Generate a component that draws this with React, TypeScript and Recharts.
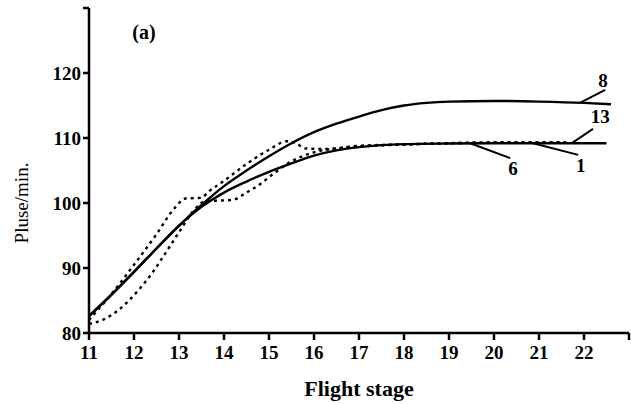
import React from 'react';
import { LineChart, Line, XAxis, YAxis, ReferenceLine, ReferenceDot } from 'recharts';

// flight stages and pulse values
const stage8 = [11, 11.5, 12, 12.5, 13, 13.5, 14, 14.5, 15, 15.5, 16, 16.5, 17, 17.5, 18, 18.5, 19, 20, 21, 22, 22.6];
const pulse8 = [82.6, 85.9, 89.4, 93.0, 96.5, 99.7, 102.6, 105.0, 107.2, 109.2, 110.9, 112.2, 113.3, 114.3, 115.0, 115.4, 115.6, 115.7, 115.6, 115.4, 115.2];

const stage6 = [11, 11.5, 12, 12.5, 13, 13.5, 14, 14.5, 15, 15.5, 16, 16.5, 17, 17.5, 18, 19, 20, 21, 22, 22.5];
const pulse6 = [82.6, 85.9, 89.4, 93.0, 96.5, 99.4, 101.6, 103.3, 104.8, 106.1, 107.3, 108.1, 108.6, 108.9, 109.05, 109.15, 109.2, 109.2, 109.2, 109.2];

const stage13 = [11, 11.5, 12, 12.5, 12.9, 13.15, 13.5, 13.65, 14, 14.5, 15, 15.4, 15.6, 15.8, 16.2, 17, 18, 19, 20, 21, 21.6];
const pulse13 = [82.0, 86.0, 90.5, 95.2, 99.2, 100.7, 100.8, 101.7, 103.4, 106.0, 108.2, 109.5, 109.2, 108.4, 108.3, 108.7, 109.0, 109.2, 109.3, 109.3, 109.3];

const stage1 = [11, 11.3, 11.65, 12.1, 12.4, 12.7, 13, 13.3, 13.6, 14, 14.2, 14.5, 14.8, 15.1, 15.4, 16, 16.5, 17, 18, 19, 20, 21, 21.6];
const pulse1 = [81.4, 82.0, 83.5, 86.6, 89.2, 92.3, 95.5, 98.6, 100.3, 100.4, 100.5, 101.6, 102.9, 104.5, 106.0, 107.8, 108.4, 108.8, 109.0, 109.2, 109.3, 109.3, 109.3];

const xTicks = [11, 12, 13, 14, 15, 16, 17, 18, 19, 20, 21, 22, 23];
const yTicks = [80, 90, 100, 110, 120, 130];

// curve numbers and their leader lines
const curveLabels = ['8', '13', '6', '1'];
const labelAt = [
  { x: 22.42, y: 118.9 },
  { x: 22.36, y: 113.3 },
  { x: 20.42, y: 105.4 },
  { x: 21.93, y: 105.8 },
];
const leaders = [
  [{ x: 21.91, y: 115.4 }, { x: 22.47, y: 117.4 }],
  [{ x: 21.73, y: 109.2 }, { x: 22.2, y: 111.4 }],
  [{ x: 19.47, y: 109.2 }, { x: 20.36, y: 106.9 }],
  [{ x: 20.87, y: 109.2 }, { x: 21.87, y: 107.4 }],
];

const toPoints = (xs: number[], ys: number[]) => xs.map((x, i) => ({ stage: x, pulse: ys[i] }));

const FONT = '"Liberation Serif", "Times New Roman", serif';
const tickStyle = { fill: '#000', fontFamily: FONT, fontWeight: 700, fontSize: 19 };

const YTitle = ({ viewBox }: any) => {
  const cx = viewBox.x + 21;
  const cy = 203;
  return (
    <text x={cx} y={cy} transform={`rotate(-90 ${cx} ${cy})`} textAnchor="middle" dominantBaseline="central"
      fontFamily={FONT} fontSize={19} fill="#000">
      Pluse/min.
    </text>
  );
};

export default function App() {
  const solidA = toPoints(stage8, pulse8);
  const solidB = toPoints(stage6, pulse6);
  const dotA = toPoints(stage13, pulse13);
  const dotB = toPoints(stage1, pulse1);

  return (
    <div style={{ position: 'absolute', left: 0, top: 0, width: 631, height: 404, background: '#fff' }}>
      <LineChart width={631} height={404} margin={{ top: 8, right: 2, bottom: 0, left: 0 }}>
        <XAxis
          dataKey="stage"
          type="number"
          domain={[11, 23]}
          ticks={xTicks}
          tickFormatter={(v: number) => (v === 23 ? '' : String(v))}
          allowDataOverflow
          height={71}
          stroke="#000"
          strokeWidth={2.5}
          tickSize={7}
          tickMargin={6}
          tick={tickStyle}
          label={{ value: 'Flight stage', position: 'insideBottom', offset: 8, fill: '#000', fontFamily: FONT, fontWeight: 700, fontSize: 22 }}
        />
        <YAxis
          dataKey="pulse"
          type="number"
          domain={[80, 130]}
          ticks={yTicks}
          tickFormatter={(v: number) => (v === 130 ? '' : String(v))}
          allowDataOverflow
          width={89}
          stroke="#000"
          strokeWidth={2.5}
          tickSize={6}
          tickMargin={2}
          tick={tickStyle}
          label={<YTitle />}
        />

        <Line data={dotA} dataKey="pulse" type="monotone" stroke="#000" strokeWidth={2.4} strokeDasharray="3 4" dot={false} isAnimationActive={false} />
        <Line data={dotB} dataKey="pulse" type="monotone" stroke="#000" strokeWidth={2.4} strokeDasharray="3 4" dot={false} isAnimationActive={false} />
        <Line data={solidA} dataKey="pulse" type="monotone" stroke="#000" strokeWidth={2.4} dot={false} isAnimationActive={false} />
        <Line data={solidB} dataKey="pulse" type="monotone" stroke="#000" strokeWidth={2.4} dot={false} isAnimationActive={false} />

        {leaders.map((seg, i) => (
          <ReferenceLine key={'l' + i} segment={seg} stroke="#000" strokeWidth={2} />
        ))}
        {curveLabels.map((t, i) => (
          <ReferenceDot key={'t' + i} x={labelAt[i].x} y={labelAt[i].y} r={0} stroke="none"
            label={{ value: t, position: 'center', fill: '#000', fontFamily: FONT, fontWeight: 700, fontSize: 19 }} />
        ))}
        <ReferenceDot x={12.22} y={126.3} r={0} stroke="none"
          label={{ value: '(a)', position: 'center', fill: '#000', fontFamily: FONT, fontWeight: 700, fontSize: 20 }} />
      </LineChart>
    </div>
  );
}
